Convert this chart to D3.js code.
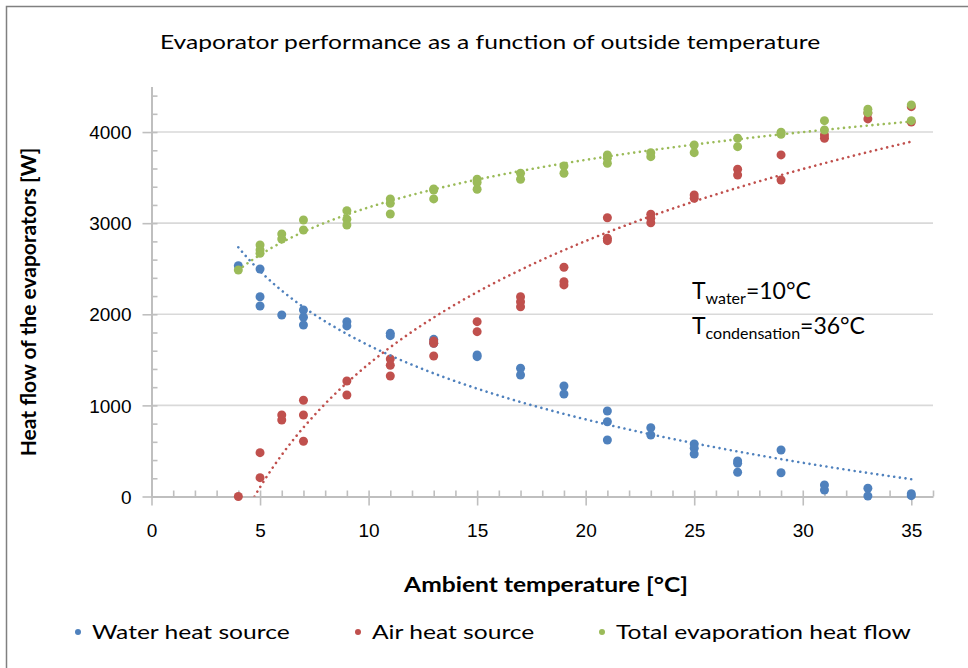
<!DOCTYPE html>
<html>
<head>
<meta charset="utf-8">
<script src="https://cdn.jsdelivr.net/npm/d3@7"></script>
<style>
    body { margin: 0; background: #fff; }
    svg { display: block; font-family: Lato, 'Open Sans', sans-serif; }
</style>
</head>
<body>
<svg id="chart" width="968" height="668"></svg>
<script>
const waterTemps = [4, 5, 5, 5, 6, 7, 7, 7, 9, 9, 11, 11, 13, 13, 15, 15, 17, 17, 19, 19,
    21, 21, 21, 23, 23, 25, 25, 25, 27, 27, 27, 29, 29, 31, 31, 33, 33, 35, 35];
const waterFlow = [2533, 2497, 2193, 2091, 1992, 2047, 1967, 1882, 1919, 1872, 1791, 1765,
    1725, 1682, 1553, 1535, 1407, 1334, 1213, 1125, 939, 821, 620, 755, 675, 576, 529, 467,
    390, 364, 266, 510, 261, 126, 71, 90, 5, 9, 30];

// the last points at 33 and 35 sit under the green markers
const airTemps = [4, 5, 5, 6, 6, 7, 7, 7, 9, 9, 11, 11, 11, 13, 13, 13, 15, 15, 17, 17, 17,
    19, 19, 19, 21, 21, 21, 23, 23, 23, 25, 25, 27, 27, 29, 29, 31, 31, 33, 35, 33, 35];
const airFlow = [0, 481, 207, 895, 840, 1056, 895, 606, 1268, 1114, 1509, 1440, 1323, 1707,
    1682, 1542, 1919, 1809, 2193, 2138, 2083, 2516, 2358, 2322, 3060, 2834, 2808, 3098, 3054,
    3005, 3310, 3273, 3592, 3529, 3749, 3474, 3968, 3932, 4144, 4279, 4208, 4110];

const totalTemps = [4, 5, 5, 5, 6, 6, 7, 7, 9, 9, 9, 11, 11, 11, 13, 13, 13, 15, 15, 15, 17,
    17, 19, 19, 21, 21, 21, 23, 23, 25, 25, 27, 27, 29, 29, 31, 31, 33, 33, 35, 35];
const totalFlow = [2486, 2760, 2706, 2669, 2881, 2826, 3035, 2925, 3137, 3043, 2980, 3266,
    3218, 3101, 3375, 3364, 3266, 3482, 3445, 3372, 3548, 3482, 3628, 3548, 3749, 3713, 3658,
    3774, 3730, 3858, 3774, 3932, 3840, 3998, 3976, 4125, 4023, 4250, 4213, 4298, 4125];

const seriesNames = ['Water heat source', 'Air heat source', 'Total evaporation heat flow'];
const seriesColors = ['#4F81BD', '#C0504D', '#9BBB59'];

const xTicks = [0, 5, 10, 15, 20, 25, 30, 35];
const yTicks = [0, 1000, 2000, 3000, 4000];

const chartTitle = 'Evaporator performance as a function of outside temperature';
const xTitle = 'Ambient temperature [°C]';
const yTitle = 'Heat flow of the evaporators [W]';

const series = [
    { name: seriesNames[0], color: seriesColors[0], t: waterTemps, q: waterFlow },
    { name: seriesNames[1], color: seriesColors[1], t: airTemps, q: airFlow },
    { name: seriesNames[2], color: seriesColors[2], t: totalTemps, q: totalFlow }
];

/**
 * Least squares fit of q = a + b * ln(t), like a logarithmic trendline
 */
function logFit(t, q) {
    const lx = t.map((v) => Math.log(v));
    const mx = d3.mean(lx);
    const my = d3.mean(q);
    let sxy = 0, sxx = 0;
    lx.forEach((v, i) => {
        sxy += (v - mx) * (q[i] - my);
        sxx += (v - mx) * (v - mx);
    });
    const b = sxy / sxx;
    return { a: my - b * mx, b };
}

// The source picture is stretched horizontally, so horizontal text is widened too
const textStretch = 1.23;
function wideText(parent, x, y, str, size, anchor, weight) {
    return parent.append('g')
        .attr('transform', `translate(${x}, ${y}) scale(${textStretch}, 1)`)
        .append('text')
        .attr('text-anchor', anchor)
        .attr('font-size', size)
        .attr('font-weight', weight || 'normal')
        .attr('fill', '#000')
        .text(str);
}

const svg = d3.select('#chart');
const gridColor = '#D9D9D9';
const axisColor = '#BFBFBF';

// Outer chart border (only top/left edges fall inside the picture)
svg.append('rect')
    .attr('x', 6.5).attr('y', 6.5)
    .attr('width', 1000).attr('height', 1000)
    .attr('fill', 'none')
    .attr('stroke', '#808080')
    .attr('stroke-width', 1.5);

const xScale = d3.scaleLinear().domain([0, 36]).range([151.5, 933]);
const yScale = d3.scaleLinear().domain([0, 4500]).range([496.5, 86.5]);

// Title
wideText(svg, 490, 49, chartTitle, 20, 'middle');

// Gridlines
svg.append('g')
    .selectAll('line')
    .data(yTicks.slice(1))
    .join('line')
    .attr('x1', xScale(0)).attr('x2', xScale(36))
    .attr('y1', (d) => yScale(d)).attr('y2', (d) => yScale(d))
    .attr('stroke', gridColor)
    .attr('stroke-width', 1.6);

// X axis: minor ticks inside, major ticks cross
const xAxis = d3.axisBottom(xScale)
    .tickValues(d3.range(0, 37, 1))
    .tickSize(0)
    .tickFormat('');
const xAxisG = svg.append('g')
    .attr('transform', `translate(0, ${yScale(0)})`)
    .call(xAxis);
xAxisG.select('.domain').attr('stroke', axisColor).attr('stroke-width', 2);
xAxisG.selectAll('.tick line')
    .attr('stroke', axisColor)
    .attr('stroke-width', 1.6)
    .attr('y1', (d) => (d % 5 === 0 ? 9 : 0))
    .attr('y2', -6);
xAxisG.selectAll('.tick')
    .filter((d) => xTicks.includes(d))
    .append('text')
    .attr('y', 40)
    .attr('fill', '#000')
    .attr('font-size', 19)
    .attr('text-anchor', 'middle')
    .text((d) => d);

// Y axis: minor ticks inside, major ticks cross
const yAxis = d3.axisLeft(yScale)
    .tickValues(d3.range(0, 4401, 200))
    .tickSize(0)
    .tickFormat('');
const yAxisG = svg.append('g')
    .attr('transform', `translate(${xScale(0)}, 0)`)
    .call(yAxis);
yAxisG.select('.domain').attr('stroke', axisColor).attr('stroke-width', 2);
yAxisG.selectAll('.tick line')
    .attr('stroke', axisColor)
    .attr('stroke-width', 1.6)
    .attr('x1', (d) => (d % 1000 === 0 ? -9 : 0))
    .attr('x2', 6);
yAxisG.selectAll('.tick')
    .filter((d) => yTicks.includes(d))
    .append('text')
    .attr('x', -20)
    .attr('dy', '0.35em')
    .attr('fill', '#000')
    .attr('font-size', 19)
    .attr('text-anchor', 'end')
    .text((d) => d);

// Axis titles
wideText(svg, 546, 592, xTitle, 20, 'middle', 'bold');
svg.append('text')
    .attr('transform', `translate(36, 302) rotate(-90)`)
    .attr('text-anchor', 'middle')
    .attr('font-size', 21)
    .attr('font-weight', 'bold')
    .text(yTitle);

// Points
const plot = svg.append('g');
series.forEach((s) => {
    plot.append('g')
        .selectAll('circle')
        .data(s.t.map((t, i) => [t, s.q[i]]))
        .join('circle')
        .attr('cx', (d) => xScale(d[0]))
        .attr('cy', (d) => yScale(d[1]))
        .attr('r', 4.5)
        .attr('fill', s.color);
});

// Logarithmic trendlines, clipped to the plot area
svg.append('clipPath').attr('id', 'plot-clip')
    .append('rect')
    .attr('x', xScale(0)).attr('y', yScale(4500))
    .attr('width', xScale(36) - xScale(0))
    .attr('height', yScale(0) - yScale(4500));

series.forEach((s) => {
    const fit = logFit(s.t, s.q);
    const [t0, t1] = d3.extent(s.t);
    const samples = d3.range(0, 201).map((i) => t0 + (t1 - t0) * i / 200);
    svg.append('path')
        .attr('clip-path', 'url(#plot-clip)')
        .attr('fill', 'none')
        .attr('stroke', s.color)
        .attr('stroke-width', 2.6)
        .attr('stroke-linecap', 'round')
        .attr('stroke-dasharray', '0.01 5.7')
        .attr('d', d3.line()
            .x((t) => xScale(t))
            .y((t) => yScale(fit.a + fit.b * Math.log(t)))(samples));
});

// Annotation
const note = svg.append('g').attr('font-size', 23).attr('fill', '#000');
const line1 = note.append('text').attr('x', 692).attr('y', 299);
line1.append('tspan').text('T');
line1.append('tspan').attr('font-size', 16).attr('dy', 5).text('water');
line1.append('tspan').attr('dy', -5).text('=10°C');
const line2 = note.append('text').attr('x', 692).attr('y', 334);
line2.append('tspan').text('T');
line2.append('tspan').attr('font-size', 16).attr('dy', 5).text('condensation');
line2.append('tspan').attr('dy', -5).text('=36°C');

// Legend
const legendX = [78, 358, 602];
const legend = svg.append('g');
series.forEach((s, i) => {
    legend.append('circle')
        .attr('cx', legendX[i]).attr('cy', 632)
        .attr('r', 3)
        .attr('fill', s.color);
    wideText(legend, legendX[i] + 14, 639, s.name, 20, 'start');
});
</script>
</body>
</html>
